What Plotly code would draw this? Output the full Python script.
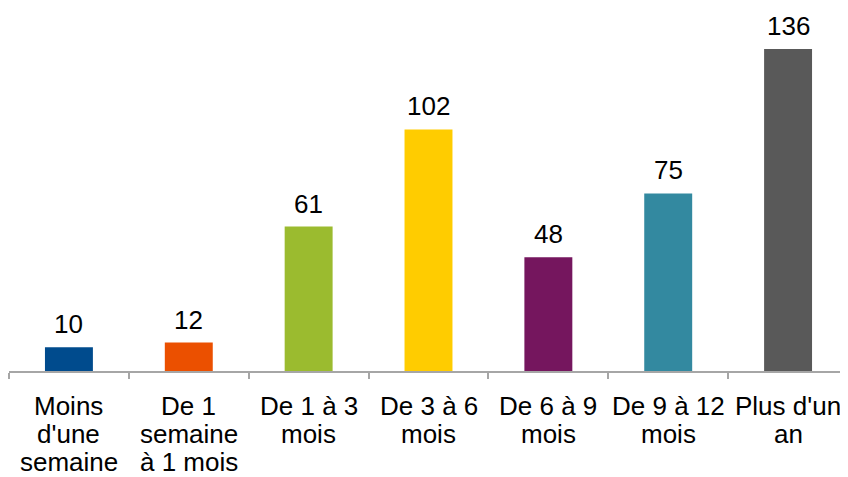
import plotly.graph_objects as go

categories = ["Moins d'une semaine", "De 1 semaine à 1 mois", "De 1 à 3 mois",
              "De 3 à 6 mois", "De 6 à 9 mois", "De 9 à 12 mois", "Plus d'un an"]
tick_lines = [["Moins", "d'une", "semaine"],
              ["De 1", "semaine", "à 1 mois"],
              ["De 1 à 3", "mois"],
              ["De 3 à 6", "mois"],
              ["De 6 à 9", "mois"],
              ["De 9 à 12", "mois"],
              ["Plus d'un", "an"]]
values = [10, 12, 61, 102, 48, 75, 136]
colors = ["#004B8D", "#EB5000", "#9BBB2F", "#FFCC00", "#75165E", "#3389A0", "#595959"]

FONT = "Liberation Sans, Arial, sans-serif"
fig = go.Figure()
fig.add_trace(go.Bar(x=categories, y=values, marker=dict(color=colors, line=dict(width=0)),
                     width=0.4, hoverinfo="skip"))

annotations = []
for c, v in zip(categories, values):
    annotations.append(dict(x=c, y=v, xref="x", yref="y", text=str(v), showarrow=False,
                            yanchor="bottom", yshift=7, borderpad=0,
                            font=dict(family=FONT, size=26, color="#000000")))
LINE_H = 28.2
for c, lines in zip(categories, tick_lines):
    for j, t in enumerate(lines):
        annotations.append(dict(x=c, y=0, xref="x", yref="y", text=t, showarrow=False,
                                yanchor="top", yshift=-19 - j * LINE_H, borderpad=0,
                                font=dict(family=FONT, size=26, color="#000000")))

fig.update_layout(
    width=840, height=469,
    margin=dict(l=1, r=0, t=0, b=106),
    plot_bgcolor="white", paper_bgcolor="white",
    showlegend=False,
    annotations=annotations,
    xaxis=dict(showticklabels=False, showline=True, linecolor="#A6A6A6", linewidth=2,
               ticks="outside", tickson="boundaries", ticklen=6, tickwidth=2,
               tickcolor="#A6A6A6", showgrid=False, zeroline=False, fixedrange=True),
    yaxis=dict(range=[0, 153.3], visible=False, showgrid=False, zeroline=False),
)
fig.write_html("out.html")
